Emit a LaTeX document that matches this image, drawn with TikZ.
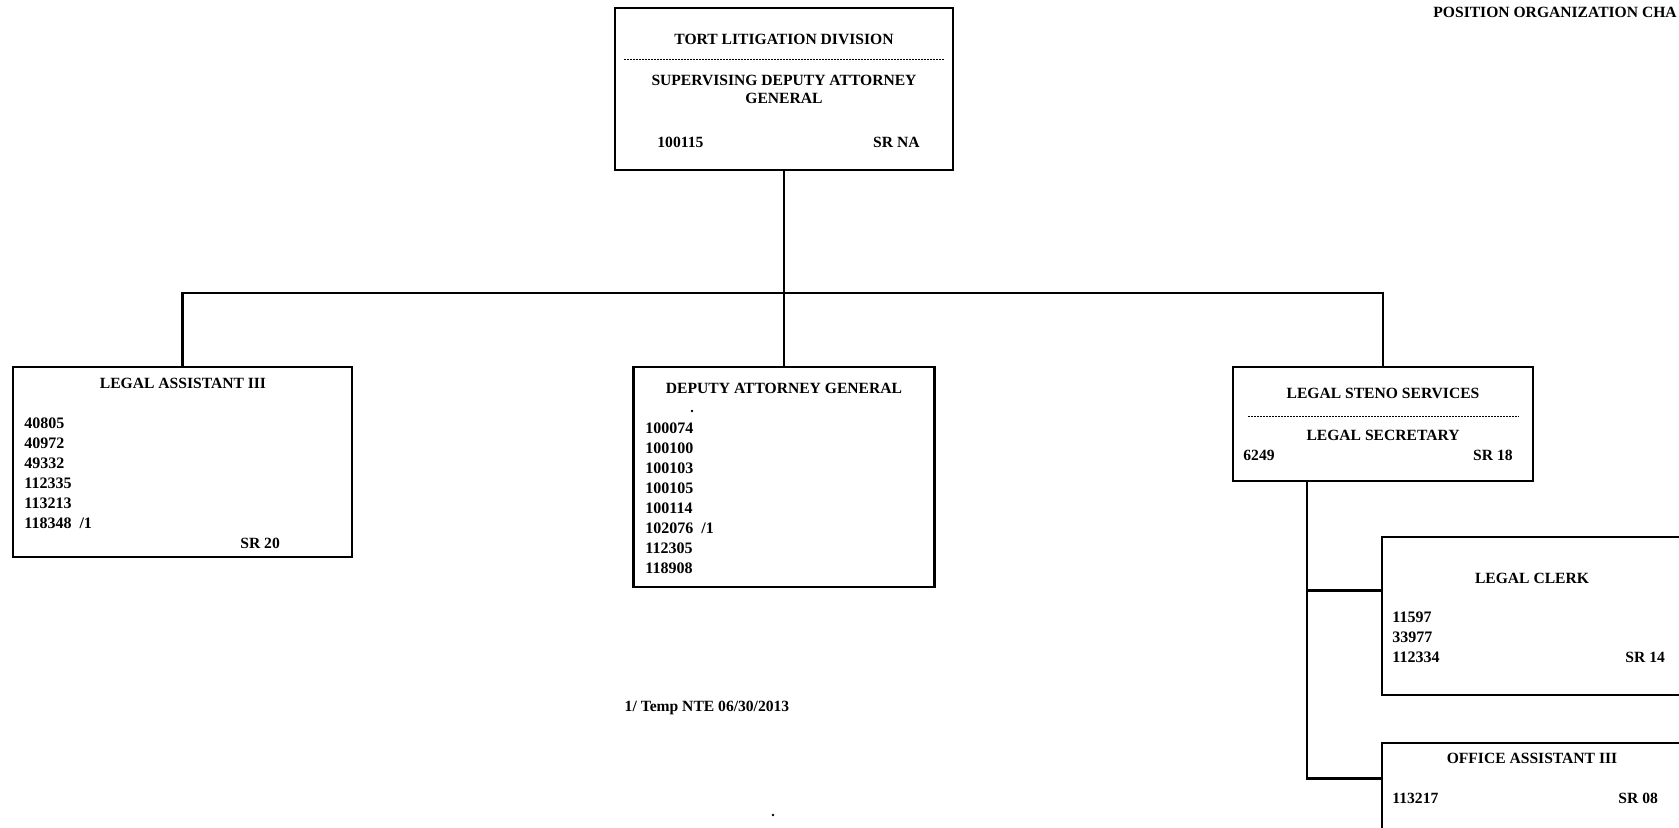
\documentclass[tikz,border=0pt]{standalone}
\usepackage{fontspec}
\setmainfont{Liberation Serif}
\usetikzlibrary{calc}

\tikzset{
    posbox/.style={draw, line width=1.3pt, inner sep=0pt},
    lbl/.style={font=\fontsize{7.8}{9}\selectfont\bfseries, inner sep=0pt},
    nums/.style={font=\fontsize{8}{10}\selectfont\bfseries, inner sep=0pt, align=left, anchor=north west},
    sep/.style={line width=0.5pt, dash pattern=on 1pt off 0.5pt},
    link/.style={line width=1.3pt}
}

\begin{document}
\begin{tikzpicture}[
    x=0.5pt, y=-0.5pt
]
    % Page frame
    \useasboundingbox (0,0) rectangle (1679,828);
    \clip (0,0) rectangle (1679,828);
    \fill[white] (0,0) rectangle (1679,828);

    % Chart heading (cut off at the page edge)
    \node[lbl, anchor=west] (chart) at (1433,12) {POSITION ORGANIZATION CHA};

    % Division head
    \node[posbox, minimum width=169pt, minimum height=81pt] (sdag) at (784,89) {};
    \node[lbl] (sdagttl) at (784,39) {TORT LITIGATION DIVISION};
    \draw[sep] (624,60) -- (945,60);
    \node[lbl, align=center] (sdagpos) at (784,89) {SUPERVISING DEPUTY ATTORNEY\\GENERAL};
    \node[lbl, anchor=west] (sdagno) at (657,142) {100115};
    \node[lbl, anchor=east] (sdagsr) at (920,142) {SR NA};

    % Legal assistants
    \node[posbox, minimum width=169.5pt, minimum height=95pt] (la3) at (182.5,462) {};
    \node[lbl] (la3ttl) at (183,383) {LEGAL ASSISTANT III};
    \node[nums] (la3nos) at (24,417.5) {40805\\40972\\49332\\112335\\113213\\118348 \ /1};
    \node[lbl, anchor=west] (la3sr) at (240,543) {SR 20};

    % Deputy attorneys
    \node[posbox, minimum width=150.5pt, minimum height=110pt] (dag) at (784,477) {};
    \node[lbl] (dagttl) at (784,388) {DEPUTY ATTORNEY GENERAL};
    \fill (692,411) circle (0.7pt);
    \node[nums] (dagnos) at (645,422.5) {100074\\100100\\100103\\100105\\100114\\102076 \ /1\\112305\\118908};

    % Steno services
    \node[posbox, minimum width=150pt, minimum height=57pt] (steno) at (1383,424) {};
    \node[lbl] (stenottl) at (1383,393) {LEGAL STENO SERVICES};
    \draw[sep] (1248,416) -- (1519,416);
    \node[lbl] (stenopos) at (1383,435) {LEGAL SECRETARY};
    \node[lbl, anchor=west] (stenono) at (1243,455) {6249};
    \node[lbl, anchor=east] (stenosr) at (1513,455) {SR 18};

    % Legal clerk
    \node[posbox, minimum width=170pt, minimum height=79pt] (clerk) at (1552,616) {};
    \node[lbl] (clerkttl) at (1532,578) {LEGAL CLERK};
    \node[nums] (clerknos) at (1392,611.5) {11597\\33977\\112334};
    \node[lbl, anchor=west] (clerksr) at (1625,657) {SR 14};

    % Office assistant
    \node[posbox, minimum width=170pt, minimum height=79pt] (oa) at (1552,822) {};
    \node[lbl] (oattl) at (1532,758) {OFFICE ASSISTANT III};
    \node[lbl, anchor=west] (oano) at (1392,798) {113217};
    \node[lbl, anchor=west] (oasr) at (1618,798) {SR 08};

    % Connectors
    \coordinate (bus) at (784,293);
    \draw[link] (sdag.south) -- (bus);
    \draw[link] (la3.north) |- (bus) -| (steno.north);
    \draw[link] (bus) -- (dag.north);
    \coordinate (stem) at (1307,481);
    \draw[link] (stem) |- ($(clerk.north west)+(0,55)$);
    \draw[link] (stem) |- ($(oa.north west)+(0,37)$);

    % Footnote
    \node[lbl, anchor=base] (note) at (707,711) {1/ Temp NTE 06/30/2013};
    \fill (773,815) circle (0.7pt);
\end{tikzpicture}
\end{document}
